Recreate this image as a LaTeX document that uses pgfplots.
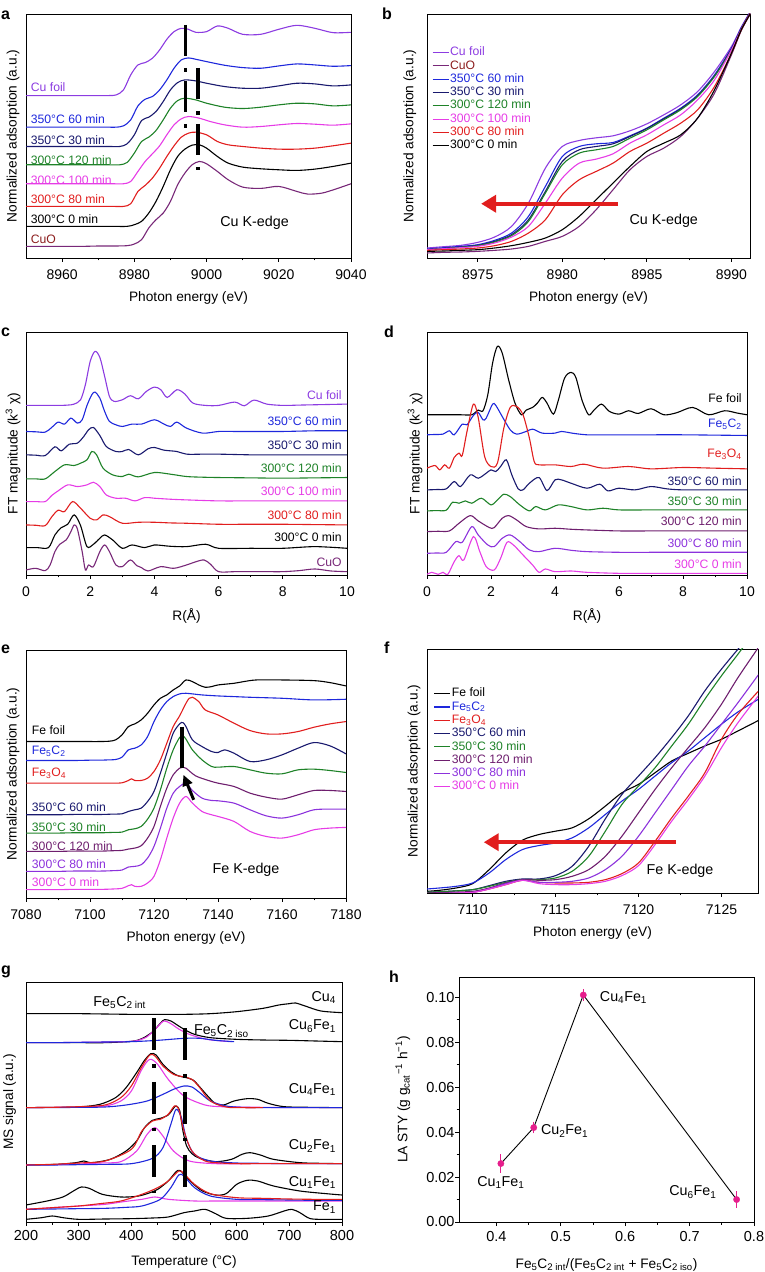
\documentclass[border=0pt]{standalone}
\usepackage{fontspec}
\setmainfont{Liberation Sans}
\usepackage{pgfplots}
\pgfplotsset{compat=1.18}
\usetikzlibrary{arrows.meta}

\definecolor{cufoil}{RGB}{140,60,225}
\definecolor{cblue}{RGB}{30,40,220}
\definecolor{cnavy}{RGB}{25,25,110}
\definecolor{cgreen}{RGB}{30,130,40}
\definecolor{cmag}{RGB}{230,60,230}
\definecolor{cred}{RGB}{225,30,30}
\definecolor{cuo}{RGB}{120,40,120}
\definecolor{cuolab}{RGB}{140,30,30}
\definecolor{dpurp}{RGB}{110,30,110}
\definecolor{purp}{RGB}{140,50,220}
\definecolor{pinkm}{RGB}{230,30,140}

\newcommand{\sub}[1]{\textsubscript{#1}}
\newcommand{\tickf}{\fontsize{14}{16}\selectfont}
\newcommand{\tickg}{\fontsize{14.5}{16}\selectfont}
\newcommand{\labf}{\fontsize{13.7}{15}\selectfont}
\newcommand{\curvf}{\fontsize{12.2}{14}\selectfont}
\newcommand{\gf}{\fontsize{14.3}{16}\selectfont}
\newcommand{\letf}{\bfseries\fontsize{16}{16}\selectfont}

\tikzset{lab/.style={inner sep=0pt, font=\curvf}}
\pgfplotsset{
 base/.style={scale only axis, axis line style={line width=0.9pt}, tick style={line width=0.8pt, black},
   tick align=outside, xtick pos=left, ytick pos=left, major tick length=4pt, minor tick length=2.5pt,
   ticklabel style={font=\tickf}, label style={font=\labf},
   /pgf/number format/assume math mode=true, /pgf/number format/1000 sep={},
   every axis plot/.append style={line width=1.1pt, no marks, smooth, tension=0.5},
   xticklabel style={yshift=-4pt},
   xlabel style={at={(axis description cs:0.5,0)}, anchor=north, yshift=-30pt},
   anchor=south west},
 spec/.style={base, ytick=\empty, y dir=reverse},
 leg/.style={legend cell align=left, legend style={draw=none, fill=none, font=\curvf, inner sep=0pt, row sep=0pt,
   nodes={inner sep=1pt, text height=8.8pt, text depth=2.5pt}},
   legend image code/.code={\draw[##1, line width=1.1pt] (0pt,0pt) -- (16pt,0pt);}},
}

\begin{document}
\begin{tikzpicture}
\path[use as bounding box] (0pt,0pt) rectangle (764pt,1272pt);

% ---------------- panel a ----------------
\begin{axis}[spec, at={(26pt,1014pt)}, width=325pt, height=244pt,
  xmin=8950, xmax=9040, ymin=42, ymax=775, xtick={8960,8980,...,9040}, minor x tick num=1,
  xlabel={Photon energy (eV)}, ylabel={Normalized adsorption (a.u.)},
  ylabel style={at={(axis description cs:-0.04,0.5)}, anchor=center}]
\addplot[cufoil] coordinates {(8950,287)(8954,287)(8958,287)(8962,287)(8966,287)(8970,287)(8973,287)(8975,285)(8977,270)(8979,225)(8981,195)(8983,188)(8985,175)(8987,150)(8989,118)(8991,95)(8993,85)(8995,88)(8997,97)(9000,95)(9003,78)(9006,85)(9010,103)(9015,103)(9020,88)(9025,76)(9030,85)(9035,98)(9040,97)};
\addplot[cblue] coordinates {(8950,382)(8954,382)(8958,382)(8962,382)(8966,382)(8970,382)(8973,382)(8975,382)(8977,378)(8979,360)(8981,318)(8983,298)(8985,290)(8987,270)(8989,240)(8991,205)(8993,180)(8995,174)(8997,178)(9000,185)(9005,196)(9010,203)(9015,205)(9020,198)(9025,192)(9030,195)(9035,199)(9040,197)};
\addplot[cnavy] coordinates {(8950,440)(8954,440)(8958,440)(8962,440)(8966,440)(8970,440)(8973,440)(8976,440)(8978,432)(8980,405)(8982,362)(8984,352)(8986,335)(8988,305)(8990,270)(8992,248)(8994,240)(8997,243)(9000,250)(9005,260)(9010,265)(9015,265)(9020,258)(9025,250)(9030,252)(9035,258)(9040,255)};
\addplot[cgreen] coordinates {(8950,495)(8954,495)(8958,495)(8962,495)(8966,495)(8970,495)(8973,495)(8976,495)(8978,488)(8980,460)(8982,425)(8984,412)(8986,392)(8988,360)(8990,325)(8992,302)(8994,295)(8997,300)(9000,310)(9005,322)(9010,326)(9015,322)(9020,315)(9025,310)(9030,312)(9035,318)(9040,315)};
\addplot[cmag] coordinates {(8950,552)(8954,552)(8958,552)(8962,552)(8966,552)(8970,552)(8974,552)(8977,552)(8979,545)(8981,515)(8983,485)(8985,462)(8987,438)(8989,405)(8991,375)(8993,357)(8995,350)(8998,355)(9001,365)(9005,375)(9010,382)(9015,380)(9020,375)(9025,371)(9030,373)(9035,376)(9040,372)};
\addplot[cred] coordinates {(8950,620)(8954,620)(8958,620)(8962,620)(8966,620)(8970,620)(8974,620)(8977,620)(8979,612)(8981,575)(8983,557)(8985,535)(8987,505)(8989,470)(8991,438)(8993,412)(8995,400)(8997,397)(9000,405)(9003,425)(9006,435)(9010,440)(9015,445)(9020,448)(9025,448)(9030,445)(9035,438)(9040,430)};
\addplot[black] coordinates {(8950,680)(8954,680)(8958,680)(8962,680)(8966,680)(8970,680)(8974,680)(8978,680)(8980,675)(8982,665)(8984,640)(8986,605)(8988,560)(8990,510)(8992,470)(8994,448)(8996,436)(8998,435)(9000,445)(9003,470)(9006,490)(9010,502)(9015,507)(9020,510)(9025,512)(9030,508)(9035,500)(9040,490)};
\addplot[cuo] coordinates {(8950,740)(8954,740)(8958,740)(8962,740)(8966,740)(8970,739)(8974,739)(8978,738)(8980,733)(8982,720)(8984,685)(8986,660)(8988,640)(8990,605)(8992,555)(8994,520)(8996,495)(8998,485)(9000,492)(9003,515)(9006,540)(9010,562)(9015,566)(9020,560)(9025,575)(9028,583)(9032,580)(9036,567)(9040,552)};
\addplot[black, line width=3.5pt, sharp plot, dash pattern=on 31pt off 12pt on 4pt off 9pt] coordinates {(8994.2,75)(8994.2,387)};
\addplot[black, line width=3.5pt, sharp plot, dash pattern=on 31pt off 12pt on 4pt off 9pt] coordinates {(8997.7,204)(8997.7,512)};
\node[lab, anchor=west, text=cufoil] at (axis cs:8951.3,262) {Cu foil};
\node[lab, anchor=west, text=cblue] at (axis cs:8951.3,357) {350°C 60 min};
\node[lab, anchor=west, text=cnavy] at (axis cs:8951.3,420) {350°C 30 min};
\node[lab, anchor=west, text=cgreen] at (axis cs:8951.3,482) {300°C 120 min};
\node[lab, anchor=west, text=cmag] at (axis cs:8951.3,540) {300°C 100 min};
\node[lab, anchor=west, text=cred] at (axis cs:8951.3,598) {300°C 80 min};
\node[lab, anchor=west, text=black] at (axis cs:8951.3,658) {300°C 0 min};
\node[lab, anchor=west, text=cuolab] at (axis cs:8951.3,718) {CuO};
\node[lab, font=\gf] at (axis cs:9013.3,668) {Cu K-edge};
\end{axis}

% ---------------- panel b ----------------
\begin{axis}[spec, leg, at={(427pt,1014pt)}, width=323pt, height=244pt,
  xmin=8972, xmax=8991.1, ymin=42, ymax=775, xtick={8975,8980,8985,8990}, minor x tick num=1,
  xlabel={Photon energy (eV)}, ylabel={Normalized adsorption (a.u.)},
  ylabel style={at={(axis description cs:-0.053,0.5)}, anchor=center},
  legend style={at={(axis description cs:0.015,0.87)}, anchor=north west}]
\addplot[cufoil] coordinates {(8972,745)(8973,741)(8974,737)(8975,728)(8976,712)(8977,680)(8978,610)(8979,505)(8980,440)(8981,422)(8982,414)(8983,408)(8984,393)(8985,372)(8986,345)(8987,315)(8988,275)(8989,215)(8990,140)(8990.6,80)(8991.2,28)};
\addlegendentry{\textcolor{cufoil}{Cu foil}}
\addplot[cuo] coordinates {(8972,760)(8973,758)(8974,757)(8975,755)(8976,752)(8977,748)(8978,740)(8979,725)(8980,710)(8981,680)(8982,630)(8983,570)(8984,510)(8985,470)(8986,445)(8987,410)(8988,355)(8989,280)(8990,165)(8990.6,90)(8991.2,35)};
\addlegendentry{\textcolor{cuolab}{CuO}}
\addplot[cblue] coordinates {(8972,748)(8973,744)(8974,740)(8975,735)(8976,722)(8977,700)(8978,650)(8979,560)(8980,470)(8981,440)(8982,432)(8983,428)(8984,408)(8985,385)(8986,355)(8987,325)(8988,285)(8989,225)(8990,145)(8990.6,82)(8991.2,30)};
\addlegendentry{\textcolor{cblue}{350°C 60 min}}
\addplot[cnavy] coordinates {(8972,750)(8973,746)(8974,742)(8975,737)(8976,725)(8977,705)(8978,660)(8979,575)(8980,485)(8981,450)(8982,440)(8983,432)(8984,410)(8985,386)(8986,357)(8987,327)(8988,288)(8989,228)(8990,147)(8990.6,84)(8991.2,30)};
\addlegendentry{\textcolor{cnavy}{350°C 30 min}}
\addplot[cgreen] coordinates {(8972,750)(8973,747)(8974,743)(8975,738)(8976,727)(8977,708)(8978,665)(8979,580)(8980,495)(8981,460)(8982,450)(8983,440)(8984,415)(8985,390)(8986,360)(8987,330)(8988,290)(8989,230)(8990,150)(8990.6,86)(8991.2,32)};
\addlegendentry{\textcolor{cgreen}{300°C 120 min}}
\addplot[cmag] coordinates {(8972,750)(8973,747)(8974,744)(8975,740)(8976,730)(8977,712)(8978,680)(8979,610)(8980,535)(8981,490)(8982,478)(8983,462)(8984,430)(8985,405)(8986,375)(8987,345)(8988,300)(8989,240)(8990,150)(8990.6,86)(8991.2,32)};
\addlegendentry{\textcolor{cmag}{300°C 100 min}}
\addplot[cred] coordinates {(8972,752)(8973,750)(8974,748)(8975,745)(8976,738)(8977,725)(8978,700)(8979,660)(8980,585)(8981,540)(8982,515)(8983,490)(8984,455)(8985,430)(8986,400)(8987,370)(8988,330)(8989,260)(8990,160)(8990.6,88)(8991.2,33)};
\addlegendentry{\textcolor{cred}{300°C 80 min}}
\addplot[black] coordinates {(8972,755)(8973,754)(8974,752)(8975,750)(8976,745)(8977,738)(8978,728)(8979,715)(8980,690)(8981,650)(8982,600)(8983,550)(8984,500)(8985,455)(8986,430)(8987,405)(8988,355)(8989,270)(8990,160)(8990.6,88)(8991.2,34)};
\addlegendentry{300°C 0 min}
\addplot[cred, line width=4pt, sharp plot, -{Triangle[length=15pt,width=17pt]}, forget plot] coordinates {(8983.3,612)(8975.2,612)};
\node[lab, font=\gf] at (axis cs:8986.0,662) {Cu K-edge};
\end{axis}

% ---------------- panel c ----------------
\begin{axis}[spec, at={(26pt,697pt)}, width=321pt, height=243pt,
  xmin=0, xmax=10, ymin=42, ymax=770, xtick={0,2,...,10}, minor x tick num=1,
  xlabel={R(Å)}, ylabel={FT magnitude (k\textsuperscript{3} χ)},
  ylabel style={at={(axis description cs:-0.04,0.5)}, anchor=center}]
\addplot[cufoil] coordinates {(0,262)(0.5,262)(1.0,262)(1.3,261)(1.5,258)(1.7,245)(1.85,200)(2.0,130)(2.15,100)(2.3,118)(2.45,175)(2.6,235)(2.75,250)(3.0,245)(3.25,233)(3.5,242)(3.75,220)(4.0,207)(4.2,215)(4.4,238)(4.7,215)(4.95,228)(5.2,255)(5.6,262)(6.0,262)(6.5,252)(6.8,263)(7.1,246)(7.5,258)(8.0,262)(8.5,261)(9.0,260)(9.5,259)(10,258)};
\addplot[cblue] coordinates {(0,340)(0.3,341)(0.6,342)(0.8,328)(1.0,312)(1.2,318)(1.4,300)(1.6,315)(1.75,305)(1.9,262)(2.05,230)(2.15,222)(2.3,240)(2.45,280)(2.6,310)(2.8,320)(3.0,325)(3.3,318)(3.6,318)(4.0,305)(4.3,318)(4.5,325)(4.7,312)(5.0,330)(5.5,345)(6.0,340)(6.5,340)(7,340)(7.5,340)(8,340)(8.5,339)(9,338)(9.5,338)(10,338)};
\addplot[cnavy] coordinates {(0,410)(0.3,411)(0.6,412)(0.9,386)(1.1,398)(1.35,378)(1.6,375)(1.8,355)(1.95,335)(2.1,328)(2.3,352)(2.5,385)(2.8,400)(3.0,400)(3.2,394)(3.5,410)(3.8,392)(4.0,388)(4.3,396)(4.7,400)(5.0,408)(5.5,408)(6,408)(6.5,409)(7,410)(7.5,410)(8,410)(9,410)(10,410)};
\addplot[cgreen] coordinates {(0,482)(0.3,482)(0.6,482)(0.9,460)(1.2,440)(1.5,442)(1.7,435)(1.9,425)(2.05,400)(2.2,410)(2.4,450)(2.7,470)(3.0,475)(3.2,468)(3.5,476)(4.0,463)(4.5,468)(5,475)(5.5,477)(6,478)(7,479)(8,480)(9,479)(10,478)};
\addplot[cmag] coordinates {(0,550)(0.3,550)(0.6,550)(0.8,532)(1.0,518)(1.3,500)(1.6,505)(1.9,500)(2.1,492)(2.3,505)(2.5,530)(2.8,540)(3.1,540)(3.4,548)(3.7,538)(4,540)(4.5,543)(5,545)(6,548)(7,548)(8,548)(9,548)(10,548)};
\addplot[cred] coordinates {(0,620)(0.3,621)(0.6,622)(0.8,596)(1.0,576)(1.2,580)(1.45,550)(1.7,570)(2.0,600)(2.2,605)(2.4,590)(2.6,595)(3.0,615)(3.5,612)(4,612)(4.5,614)(5,615)(6,618)(7,618)(8,618)(9,619)(10,620)};
\addplot[black] coordinates {(0,688)(0.35,688)(0.7,688)(0.9,650)(1.1,628)(1.3,618)(1.5,590)(1.7,622)(1.9,685)(2.1,678)(2.3,660)(2.45,650)(2.7,665)(3.0,690)(3.3,680)(3.7,688)(4,680)(4.5,684)(5,685)(5.6,678)(6,690)(7,690)(8,690)(9,685)(10,690)};
\addplot[cuo] coordinates {(0,755)(0.3,750)(0.6,757)(0.75,740)(0.9,700)(1.05,678)(1.25,665)(1.4,640)(1.5,620)(1.6,632)(1.75,700)(1.85,755)(1.95,740)(2.1,745)(2.3,700)(2.45,680)(2.6,700)(2.8,740)(3.0,745)(3.25,725)(3.45,742)(3.6,748)(3.8,758)(4.2,745)(4.6,750)(5.0,740)(5.3,730)(5.55,725)(5.75,738)(6.0,760)(6.5,760)(7,760)(7.5,760)(8,760)(8.5,757)(9,752)(9.5,758)(10,760)};
\node[lab, anchor=east, text=cufoil] at (axis cs:9.84,232) {Cu foil};
\node[lab, anchor=east, text=cblue] at (axis cs:9.84,310) {350°C 60 min};
\node[lab, anchor=east, text=cnavy] at (axis cs:9.84,382) {350°C 30 min};
\node[lab, anchor=east, text=cgreen] at (axis cs:9.84,450) {300°C 120 min};
\node[lab, anchor=east, text=cmag] at (axis cs:9.84,520) {300°C 100 min};
\node[lab, anchor=east, text=cred] at (axis cs:9.84,590) {300°C 80 min};
\node[lab, anchor=east, text=black] at (axis cs:9.84,657) {300°C 0 min};
\node[lab, anchor=east, text=cuo] at (axis cs:9.84,733) {CuO};
\end{axis}

% ---------------- panel d ----------------
\begin{axis}[spec, at={(427pt,697pt)}, width=320pt, height=243pt,
  xmin=0, xmax=10, ymin=42, ymax=770, xtick={0,2,...,10}, minor x tick num=1,
  xlabel={R(Å)}, ylabel={FT magnitude (k\textsuperscript{3} χ)},
  ylabel style={at={(axis description cs:-0.0375,0.5)}, anchor=center}]
\addplot[black] coordinates {(0,290)(0.35,290)(0.7,290)(1.05,290)(1.4,290)(1.6,276)(1.75,278)(1.9,230)(2.05,135)(2.2,85)(2.35,105)(2.55,185)(2.75,255)(2.95,290)(3.1,276)(3.3,268)(3.45,255)(3.6,238)(3.75,255)(3.95,288)(4.1,248)(4.3,180)(4.5,163)(4.65,178)(4.85,248)(5.05,290)(5.2,278)(5.45,258)(5.7,280)(6,288)(6.3,278)(6.6,286)(7,272)(7.4,290)(7.8,284)(8.3,268)(8.8,290)(9.3,278)(9.7,285)(10,290)};
\addplot[cblue] coordinates {(0,350)(0.25,349)(0.5,348)(0.7,338)(0.85,350)(1.1,318)(1.25,320)(1.45,292)(1.6,283)(1.75,305)(1.85,300)(2.05,258)(2.15,262)(2.35,295)(2.6,335)(2.8,348)(3.1,340)(3.3,333)(3.6,345)(4.0,345)(4.2,340)(4.6,346)(5,350)(5.5,350)(6,350)(7,350)(8,350)(9,351)(10,352)};
\addplot[cred] coordinates {(0,450)(0.25,442)(0.4,455)(0.55,440)(0.7,450)(0.85,418)(1.0,405)(1.1,412)(1.25,340)(1.45,258)(1.6,298)(1.8,415)(2.0,445)(2.2,435)(2.4,330)(2.6,268)(2.8,265)(3.0,290)(3.2,360)(3.35,430)(3.5,440)(4,440)(4.5,445)(4.9,438)(5.5,450)(6.3,445)(7,452)(8,448)(9,450)(10,452)};
\addplot[cnavy] coordinates {(0,515)(0.3,514)(0.6,512)(0.85,490)(1.05,505)(1.35,470)(1.6,480)(1.85,465)(2.0,455)(2.15,460)(2.3,445)(2.48,425)(2.65,470)(2.85,512)(3.0,515)(3.2,495)(3.5,478)(3.75,517)(4.0,485)(4.2,485)(4.5,495)(5,510)(5.4,498)(5.65,518)(6,510)(6.5,515)(7,505)(7.5,512)(8,515)(9,515)(10,515)};
\addplot[cgreen] coordinates {(0,578)(0.3,577)(0.6,576)(0.8,552)(1.0,555)(1.2,548)(1.4,555)(1.7,540)(2.0,560)(2.2,545)(2.4,528)(2.6,535)(2.9,560)(3.2,578)(3.4,565)(3.7,575)(4.1,560)(4.5,565)(5,575)(5.5,570)(6,575)(7,575)(8,575)(9,575)(10,575)};
\addplot[dpurp] coordinates {(0,640)(0.35,639)(0.7,638)(1.0,615)(1.35,592)(1.6,608)(1.95,628)(2.1,628)(2.35,600)(2.55,592)(2.8,605)(3.1,625)(3.5,632)(4,630)(4.5,633)(5,635)(6,638)(7,638)(8,638)(9,638)(10,638)};
\addplot[purp] coordinates {(0,705)(0.3,704)(0.6,702)(0.9,670)(1.1,672)(1.4,625)(1.6,650)(1.9,680)(2.1,685)(2.35,660)(2.6,650)(2.9,670)(3.2,695)(3.5,700)(4,690)(4.5,696)(5,700)(6,702)(7,702)(8,702)(9,702)(10,702)};
\addplot[cmag] coordinates {(0,768)(0.15,762)(0.35,768)(0.5,762)(0.65,768)(0.85,730)(1.0,712)(1.15,725)(1.45,655)(1.65,700)(1.85,745)(2.1,755)(2.3,720)(2.5,672)(2.7,680)(3.0,710)(3.3,740)(3.5,762)(3.7,752)(4,760)(4.5,758)(5,762)(6,765)(7,765)(8,765)(9,765)(10,765)};
\node[lab, anchor=east, text=black] at (axis cs:9.84,240) {Fe foil};
\node[lab, anchor=east, text=cblue] at (axis cs:9.84,318) {Fe\sub{5}C\sub{2}};
\node[lab, anchor=east, text=cred] at (axis cs:9.84,408) {Fe\sub{3}O\sub{4}};
\node[lab, anchor=east, text=cnavy] at (axis cs:9.84,490) {350°C 60 min};
\node[lab, anchor=east, text=cgreen] at (axis cs:9.84,548) {350°C 30 min};
\node[lab, anchor=east, text=dpurp] at (axis cs:9.84,610) {300°C 120 min};
\node[lab, anchor=east, text=purp] at (axis cs:9.84,675) {300°C 80 min};
\node[lab, anchor=east, text=cmag] at (axis cs:9.84,738) {300°C 0 min};
\end{axis}

% ---------------- panel e ----------------
\begin{axis}[spec, at={(26pt,374pt)}, width=320pt, height=248pt,
  xmin=7080, xmax=7180, ymin=40, ymax=785, xtick={7080,7100,...,7180}, minor x tick num=1,
  xlabel={Photon energy (eV)}, ylabel={Normalized adsorption (a.u.)},
  ylabel style={at={(axis description cs:-0.04,0.5)}, anchor=center}]
\addplot[black] coordinates {(7080,315)(7085,315)(7090,315)(7095,315)(7100,315)(7103,315)(7106,314)(7108,310)(7110,295)(7112,270)(7114,262)(7116,250)(7118,230)(7120,205)(7122,185)(7124,175)(7126,160)(7128,148)(7130,130)(7132,135)(7134,145)(7136,152)(7138,150)(7140,145)(7145,140)(7148,135)(7152,130)(7160,130)(7170,132)(7175,138)(7180,148)};
\addplot[cblue] coordinates {(7080,372)(7085,372)(7090,372)(7095,372)(7100,371)(7103,371)(7106,370)(7108,369)(7110,362)(7112,340)(7114,335)(7116,325)(7118,300)(7120,255)(7122,220)(7124,195)(7126,180)(7128,172)(7130,170)(7135,175)(7140,178)(7145,180)(7150,182)(7160,185)(7170,190)(7180,188)};
\addplot[cred] coordinates {(7080,440)(7085,440)(7090,440)(7095,440)(7100,440)(7104,440)(7107,440)(7110,439)(7112,432)(7113,427)(7114,432)(7116,432)(7118,425)(7120,405)(7122,370)(7124,320)(7126,270)(7128,238)(7130,200)(7131,185)(7132,182)(7134,195)(7136,220)(7140,235)(7145,260)(7150,282)(7155,292)(7160,292)(7165,285)(7170,272)(7175,262)(7180,255)};
\addplot[cnavy] coordinates {(7080,535)(7085,535)(7090,535)(7095,534)(7100,534)(7104,534)(7107,533)(7110,532)(7112,525)(7114,520)(7116,515)(7118,495)(7120,465)(7122,410)(7124,350)(7126,290)(7128,262)(7129,258)(7130,270)(7132,310)(7135,330)(7138,345)(7140,348)(7142,340)(7145,350)(7150,375)(7155,370)(7160,355)(7165,335)(7170,318)(7175,328)(7180,352)};
\addplot[cgreen] coordinates {(7080,590)(7085,590)(7090,590)(7095,589)(7100,589)(7104,589)(7107,588)(7110,587)(7112,580)(7114,577)(7116,570)(7118,548)(7120,515)(7122,460)(7124,395)(7126,340)(7128,303)(7129,298)(7130,308)(7132,340)(7135,370)(7138,390)(7140,392)(7145,390)(7150,400)(7155,410)(7160,412)(7165,400)(7170,398)(7175,402)(7180,408)};
\addplot[dpurp] coordinates {(7080,645)(7085,645)(7090,645)(7095,644)(7100,644)(7104,644)(7107,643)(7110,642)(7112,638)(7114,635)(7116,628)(7118,605)(7120,570)(7122,510)(7124,455)(7126,415)(7128,395)(7129,392)(7130,395)(7133,418)(7137,432)(7140,440)(7145,450)(7150,470)(7155,482)(7160,488)(7165,475)(7170,462)(7175,462)(7180,465)};
\addplot[purp] coordinates {(7080,705)(7085,705)(7090,705)(7095,704)(7100,704)(7104,704)(7107,703)(7110,701)(7112,692)(7114,690)(7116,685)(7118,665)(7120,630)(7122,575)(7124,515)(7126,470)(7128,450)(7130,440)(7132,462)(7135,485)(7138,492)(7140,493)(7145,500)(7150,520)(7155,538)(7160,545)(7165,535)(7170,520)(7175,518)(7180,518)};
\addplot[cmag] coordinates {(7080,760)(7085,760)(7090,760)(7095,759)(7100,759)(7104,759)(7107,758)(7110,756)(7112,748)(7113,745)(7114,750)(7116,750)(7118,740)(7120,720)(7122,670)(7124,605)(7126,545)(7128,500)(7130,480)(7132,500)(7135,525)(7138,535)(7140,540)(7145,555)(7150,585)(7155,600)(7160,605)(7165,595)(7170,580)(7175,575)(7180,573)};
\addplot[black, line width=4pt, sharp plot] coordinates {(7128.6,270)(7128.6,394)};
\addplot[black, line width=3pt, sharp plot, -{Triangle[length=11pt,width=10pt]}] coordinates {(7132.4,490)(7129.2,415)};
\node[lab, anchor=west, text=black] at (axis cs:7081.8,282) {Fe foil};
\node[lab, anchor=west, text=cblue] at (axis cs:7081.8,345) {Fe\sub{5}C\sub{2}};
\node[lab, anchor=west, text=cred] at (axis cs:7081.8,410) {Fe\sub{3}O\sub{4}};
\node[lab, anchor=west, text=cnavy] at (axis cs:7081.8,512) {350°C 60 min};
\node[lab, anchor=west, text=cgreen] at (axis cs:7081.8,572) {350°C 30 min};
\node[lab, anchor=west, text=dpurp] at (axis cs:7081.8,628) {300°C 120 min};
\node[lab, anchor=west, text=purp] at (axis cs:7081.8,683) {300°C 80 min};
\node[lab, anchor=west, text=cmag] at (axis cs:7081.8,738) {300°C 0 min};
\node[lab, font=\gf] at (axis cs:7148.75,700) {Fe K-edge};
\end{axis}

% ---------------- panel f ----------------
\begin{axis}[spec, leg, at={(427pt,379pt)}, width=331pt, height=244pt,
  xmin=7107.25, xmax=7127.2, ymin=40, ymax=770, xtick={7110,7115,7120,7125}, minor x tick num=1,
  xlabel={Photon energy (eV)}, ylabel={Normalized adsorption (a.u.)},
  ylabel style={at={(axis description cs:-0.039,0.5)}, anchor=center},
  legend style={at={(axis description cs:0.02,0.845)}, anchor=north west}]
\addplot[black] coordinates {(7107.25,765)(7108,762)(7109,755)(7110,742)(7111,700)(7112,650)(7113,612)(7114,595)(7115,585)(7116,575)(7117,548)(7118,510)(7119,470)(7120,445)(7121,410)(7122,375)(7123,352)(7124,330)(7125,310)(7126,285)(7127.3,252)};
\addlegendentry{Fe foil}
\addplot[cblue] coordinates {(7107.25,758)(7108,755)(7109,750)(7110,740)(7111,710)(7112,670)(7113,640)(7114,628)(7115,620)(7116,605)(7117,575)(7118,535)(7119,495)(7120,460)(7121,420)(7122,380)(7123,345)(7124,305)(7125,265)(7126,228)(7127.3,188)};
\addlegendentry{\textcolor{cblue}{Fe\sub{5}C\sub{2}}}
\addplot[cred] coordinates {(7107.25,772)(7108.5,771)(7110,768)(7111,758)(7112,745)(7113,732)(7114,738)(7115,740)(7116,740)(7117,738)(7118,730)(7119,712)(7120,680)(7121,615)(7122,545)(7123,480)(7124,410)(7125,310)(7126,235)(7127.3,162)};
\addlegendentry{\textcolor{cred}{Fe\sub{3}O\sub{4}}}
\addplot[cnavy] coordinates {(7107.25,768)(7108.5,765)(7110,760)(7111,748)(7112,735)(7113,728)(7114,728)(7115,718)(7116,690)(7117,630)(7118,548)(7119,475)(7120,420)(7121,365)(7122,305)(7123,240)(7124,165)(7125,100)(7126,40)(7126.5,10)};
\addlegendentry{\textcolor{cnavy}{350°C 60 min}}
\addplot[cgreen] coordinates {(7107.25,768)(7108.5,765)(7110,760)(7111,750)(7112,738)(7113,730)(7114,730)(7115,725)(7116,705)(7117,660)(7118,585)(7119,505)(7120,450)(7121,395)(7122,330)(7123,265)(7124,190)(7125,120)(7126,55)(7126.6,15)};
\addlegendentry{\textcolor{cgreen}{350°C 30 min}}
\addplot[dpurp] coordinates {(7107.25,770)(7108.5,768)(7110,765)(7111,755)(7112,740)(7113,730)(7114,732)(7115,730)(7116,720)(7117,700)(7118,660)(7119,600)(7120,530)(7121,460)(7122,395)(7123,335)(7124,275)(7125,205)(7126,125)(7127.3,30)};
\addlegendentry{\textcolor{dpurp}{300°C 120 min}}
\addplot[purp] coordinates {(7107.25,772)(7108.5,771)(7110,768)(7111,757)(7112,742)(7113,732)(7114,738)(7115,738)(7116,735)(7117,725)(7118,700)(7119,660)(7120,600)(7121,530)(7122,460)(7123,390)(7124,330)(7125,265)(7126,200)(7127.3,112)};
\addlegendentry{\textcolor{purp}{300°C 80 min}}
\addplot[cmag] coordinates {(7107.25,772)(7108.5,771)(7110,768)(7111,758)(7112,745)(7113,732)(7114,742)(7115,745)(7116,745)(7117,742)(7118,735)(7119,718)(7120,688)(7121,625)(7122,555)(7123,490)(7124,420)(7125,335)(7126,260)(7127.3,175)};
\addlegendentry{\textcolor{cmag}{300°C 0 min}}
\addplot[cred, line width=4pt, sharp plot, -{Triangle[length=15pt,width=17pt]}, forget plot] coordinates {(7122.26,618)(7110.67,618)};
\node[lab, font=\gf] at (axis cs:7122.5,705) {Fe K-edge};
\end{axis}

% ---------------- panel g ----------------
\begin{axis}[spec, at={(26pt,50pt)}, width=316pt, height=240pt,
  xmin=200, xmax=800, ymin=83, ymax=803, xtick={200,300,...,800}, minor x tick num=1,
  ticklabel style={font=\tickg}, xticklabel style={yshift=3pt},
  xlabel={Temperature (°C)}, ylabel={MS signal (a.u.)},
  ylabel style={at={(axis description cs:-0.052,0.5)}, anchor=center}]
\addplot[black] coordinates {(200,178)(250,178)(300,178)(350,179)(400,180)(450,180)(500,180)(550,178)(600,172)(650,162)(680,152)(700,148)(712,146)(730,155)(760,170)(800,175)};
% Cu6Fe1
\addplot[black] coordinates {(200,265)(250,265)(300,265)(350,265)(400,261)(420,253)(440,233)(455,207)(463,196)(475,200)(490,215)(500,225)(520,240)(550,250)(600,255)(650,257)(700,258)(750,260)(800,262)};
\addplot[cmag] coordinates {(200,265)(250,265)(300,264)(350,263)(385,262)(410,259)(430,247)(450,217)(462,200)(475,208)(490,224)(510,240)(540,254)(565,259)(590,262)};
\addplot[cblue] coordinates {(200,265)(250,265)(300,264)(350,263)(400,262)(450,258)(500,252)(530,252)(560,258)(595,262)};
% Cu4Fe1
\addplot[black] coordinates {(200,460)(250,459)(300,458)(340,450)(370,430)(390,400)(410,355)(425,318)(437,298)(447,302)(460,330)(475,352)(490,365)(505,370)(518,378)(530,398)(545,425)(560,448)(575,452)(595,440)(620,433)(640,435)(660,447)(690,457)(740,459)(800,460)};
\addplot[cmag] coordinates {(200,460)(250,459)(300,458)(350,455)(380,440)(400,410)(420,345)(435,315)(450,330)(470,375)(500,425)(540,452)(570,457)(600,458)(650,459)(700,460)(750,460)(800,460)};
\addplot[cblue] coordinates {(200,460)(250,460)(300,459)(350,458)(390,452)(430,440)(460,420)(480,405)(500,395)(515,398)(530,415)(550,440)(580,455)(610,459)(650,460)(700,460)(750,460)(800,460)};
\addplot[cred] coordinates {(200,460)(250,459)(300,457)(350,452)(380,430)(400,395)(420,337)(435,302)(445,305)(460,335)(480,360)(500,368)(515,375)(530,400)(550,440)(580,458)(610,460)(650,460)};
% Cu2Fe1
\addplot[black] coordinates {(200,632)(230,631)(260,630)(295,625)(310,620)(325,625)(360,615)(390,590)(410,560)(425,520)(440,498)(455,492)(470,482)(480,462)(485,455)(492,470)(498,530)(505,575)(515,598)(530,612)(560,622)(590,615)(610,600)(625,595)(645,602)(670,615)(720,625)(760,627)(800,628)};
\addplot[cmag] coordinates {(200,632)(250,631)(300,629)(340,626)(380,622)(410,590)(430,540)(445,520)(460,545)(480,590)(510,620)(560,628)(620,628)(680,628)(740,628)(800,628)};
\addplot[cblue] coordinates {(200,632)(250,632)(300,631)(350,630)(400,628)(440,612)(460,580)(475,510)(485,465)(495,490)(505,555)(520,600)(550,620)(600,626)(650,627)(700,628)(750,628)(800,628)};
\addplot[cred] coordinates {(200,632)(250,630)(300,626)(350,620)(400,585)(420,530)(440,500)(455,495)(470,480)(482,455)(490,465)(500,530)(515,590)(540,620)(570,626)(600,628)(650,628)(700,628)(750,628)(800,628)};
% Cu1Fe1
\addplot[black] coordinates {(200,752)(240,740)(270,728)(290,710)(305,698)(320,702)(345,720)(380,728)(410,726)(430,718)(450,705)(470,680)(485,652)(492,648)(500,660)(515,685)(535,710)(560,722)(580,718)(600,690)(620,678)(640,680)(670,695)(720,710)(770,718)(800,722)};
\addplot[cmag] coordinates {(200,765)(250,760)(300,755)(350,750)(385,742)(420,735)(445,728)(470,735)(520,740)(560,740)(600,740)(650,740)(700,740)(750,740)(800,740)};
\addplot[cblue] coordinates {(200,765)(250,764)(300,763)(350,762)(390,759)(420,755)(455,735)(475,700)(490,662)(500,665)(520,700)(550,725)(600,735)(650,736)(700,737)(750,738)(800,738)};
\addplot[cred] coordinates {(200,765)(250,760)(300,755)(340,748)(380,740)(420,720)(450,700)(470,680)(490,650)(500,658)(520,690)(550,718)(600,730)(650,732)(700,734)(750,735)(800,735)};
% Fe1
\addplot[black] coordinates {(200,795)(230,790)(250,785)(270,790)(300,795)(350,794)(400,793)(440,791)(470,788)(500,775)(520,770)(540,765)(560,778)(580,792)(620,792)(660,785)(690,770)(705,765)(720,775)(740,793)(770,795)(800,795)};
\addplot[black, line width=3.5pt, sharp plot, dash pattern=on 32pt off 14pt on 3.5pt off 14pt] coordinates {(443.4,192)(443.4,716)};
\addplot[black, line width=3.5pt, sharp plot, dash pattern=on 32pt off 14pt on 3.5pt off 14pt] coordinates {(501.5,222)(501.5,740)};
\node[lab, font=\gf] at (axis cs:378,145) {Fe\sub{5}C\sub{2 int}};
\node[lab, font=\gf] at (axis cs:571,230) {Fe\sub{5}C\sub{2 iso}};
\node[lab, font=\gf, anchor=east] at (axis cs:789,130) {Cu\sub{4}};
\node[lab, font=\gf, anchor=east] at (axis cs:789,215) {Cu\sub{6}Fe\sub{1}};
\node[lab, font=\gf, anchor=east] at (axis cs:789,405) {Cu\sub{4}Fe\sub{1}};
\node[lab, font=\gf, anchor=east] at (axis cs:789,575) {Cu\sub{2}Fe\sub{1}};
\node[lab, font=\gf, anchor=east] at (axis cs:789,685) {Cu\sub{1}Fe\sub{1}};
\node[lab, font=\gf, anchor=east] at (axis cs:789,758) {Fe\sub{1}};
\end{axis}

% ---------------- panel h ----------------
\begin{axis}[base, at={(459pt,50pt)}, width=295pt, height=245pt,
  xmin=0.342, xmax=0.8, ymin=0, ymax=0.109,
  ticklabel style={font=\tickg},
  xtick={0.4,0.5,0.6,0.7,0.8}, minor x tick num=1, ytick={0,0.02,...,0.1}, minor y tick num=1,
  xticklabel style={yshift=2pt, /pgf/number format/.cd, fixed, precision=1},
  yticklabel style={xshift=3pt, /pgf/number format/.cd, fixed, fixed zerofill, precision=2},
  xlabel={Fe\sub{5}C\sub{2 int}/(Fe\sub{5}C\sub{2 int} + Fe\sub{5}C\sub{2 iso})},
  xlabel style={yshift=-3pt},
  ylabel={LA STY (g g\sub{cat}\textsuperscript{−1} h\textsuperscript{−1})},
  ylabel style={at={(axis description cs:-0.19,0.5)}, anchor=center}]
\addplot[black, line width=0.9pt, sharp plot] coordinates {(0.407,0.026)(0.458,0.042)(0.535,0.101)(0.773,0.010)};
\addplot[only marks, mark=square*, mark size=3.2pt, color=pinkm, mark options={line width=0.3pt, line join=miter},
  error bars/.cd, y dir=both, y explicit, error bar style={line width=0.8pt, pinkm}, error mark options={line width=0.8pt, mark size=2.5pt}]
  coordinates {(0.407,0.026) +- (0,0.003) (0.458,0.042) +- (0,0.0015) (0.535,0.101) +- (0,0.0015) (0.773,0.010) +- (0,0.0025)};
\node[lab, font=\gf] at (axis cs:0.407,0.0175) {Cu\sub{1}Fe\sub{1}};
\node[lab, font=\gf, anchor=west] at (axis cs:0.469,0.0405) {Cu\sub{2}Fe\sub{1}};
\node[lab, font=\gf, anchor=west] at (axis cs:0.5605,0.1) {Cu\sub{4}Fe\sub{1}};
\node[lab, font=\gf] at (axis cs:0.705,0.0133) {Cu\sub{6}Fe\sub{1}};
\end{axis}

\node[anchor=base west, inner sep=0pt, font=\letf] at (1pt,1252pt) {a};
\node[anchor=base west, inner sep=0pt, font=\letf] at (382pt,1252pt) {b};
\node[anchor=base west, inner sep=0pt, font=\letf] at (1pt,935pt) {c};
\node[anchor=base west, inner sep=0pt, font=\letf] at (384pt,934pt) {d};
\node[anchor=base west, inner sep=0pt, font=\letf] at (1pt,618pt) {e};
\node[anchor=base west, inner sep=0pt, font=\letf] at (384pt,618pt) {f};
\node[anchor=base west, inner sep=0pt, font=\letf] at (1pt,297pt) {g};
\node[anchor=base west, inner sep=0pt, font=\letf] at (389pt,289pt) {h};
\end{tikzpicture}
\end{document}
